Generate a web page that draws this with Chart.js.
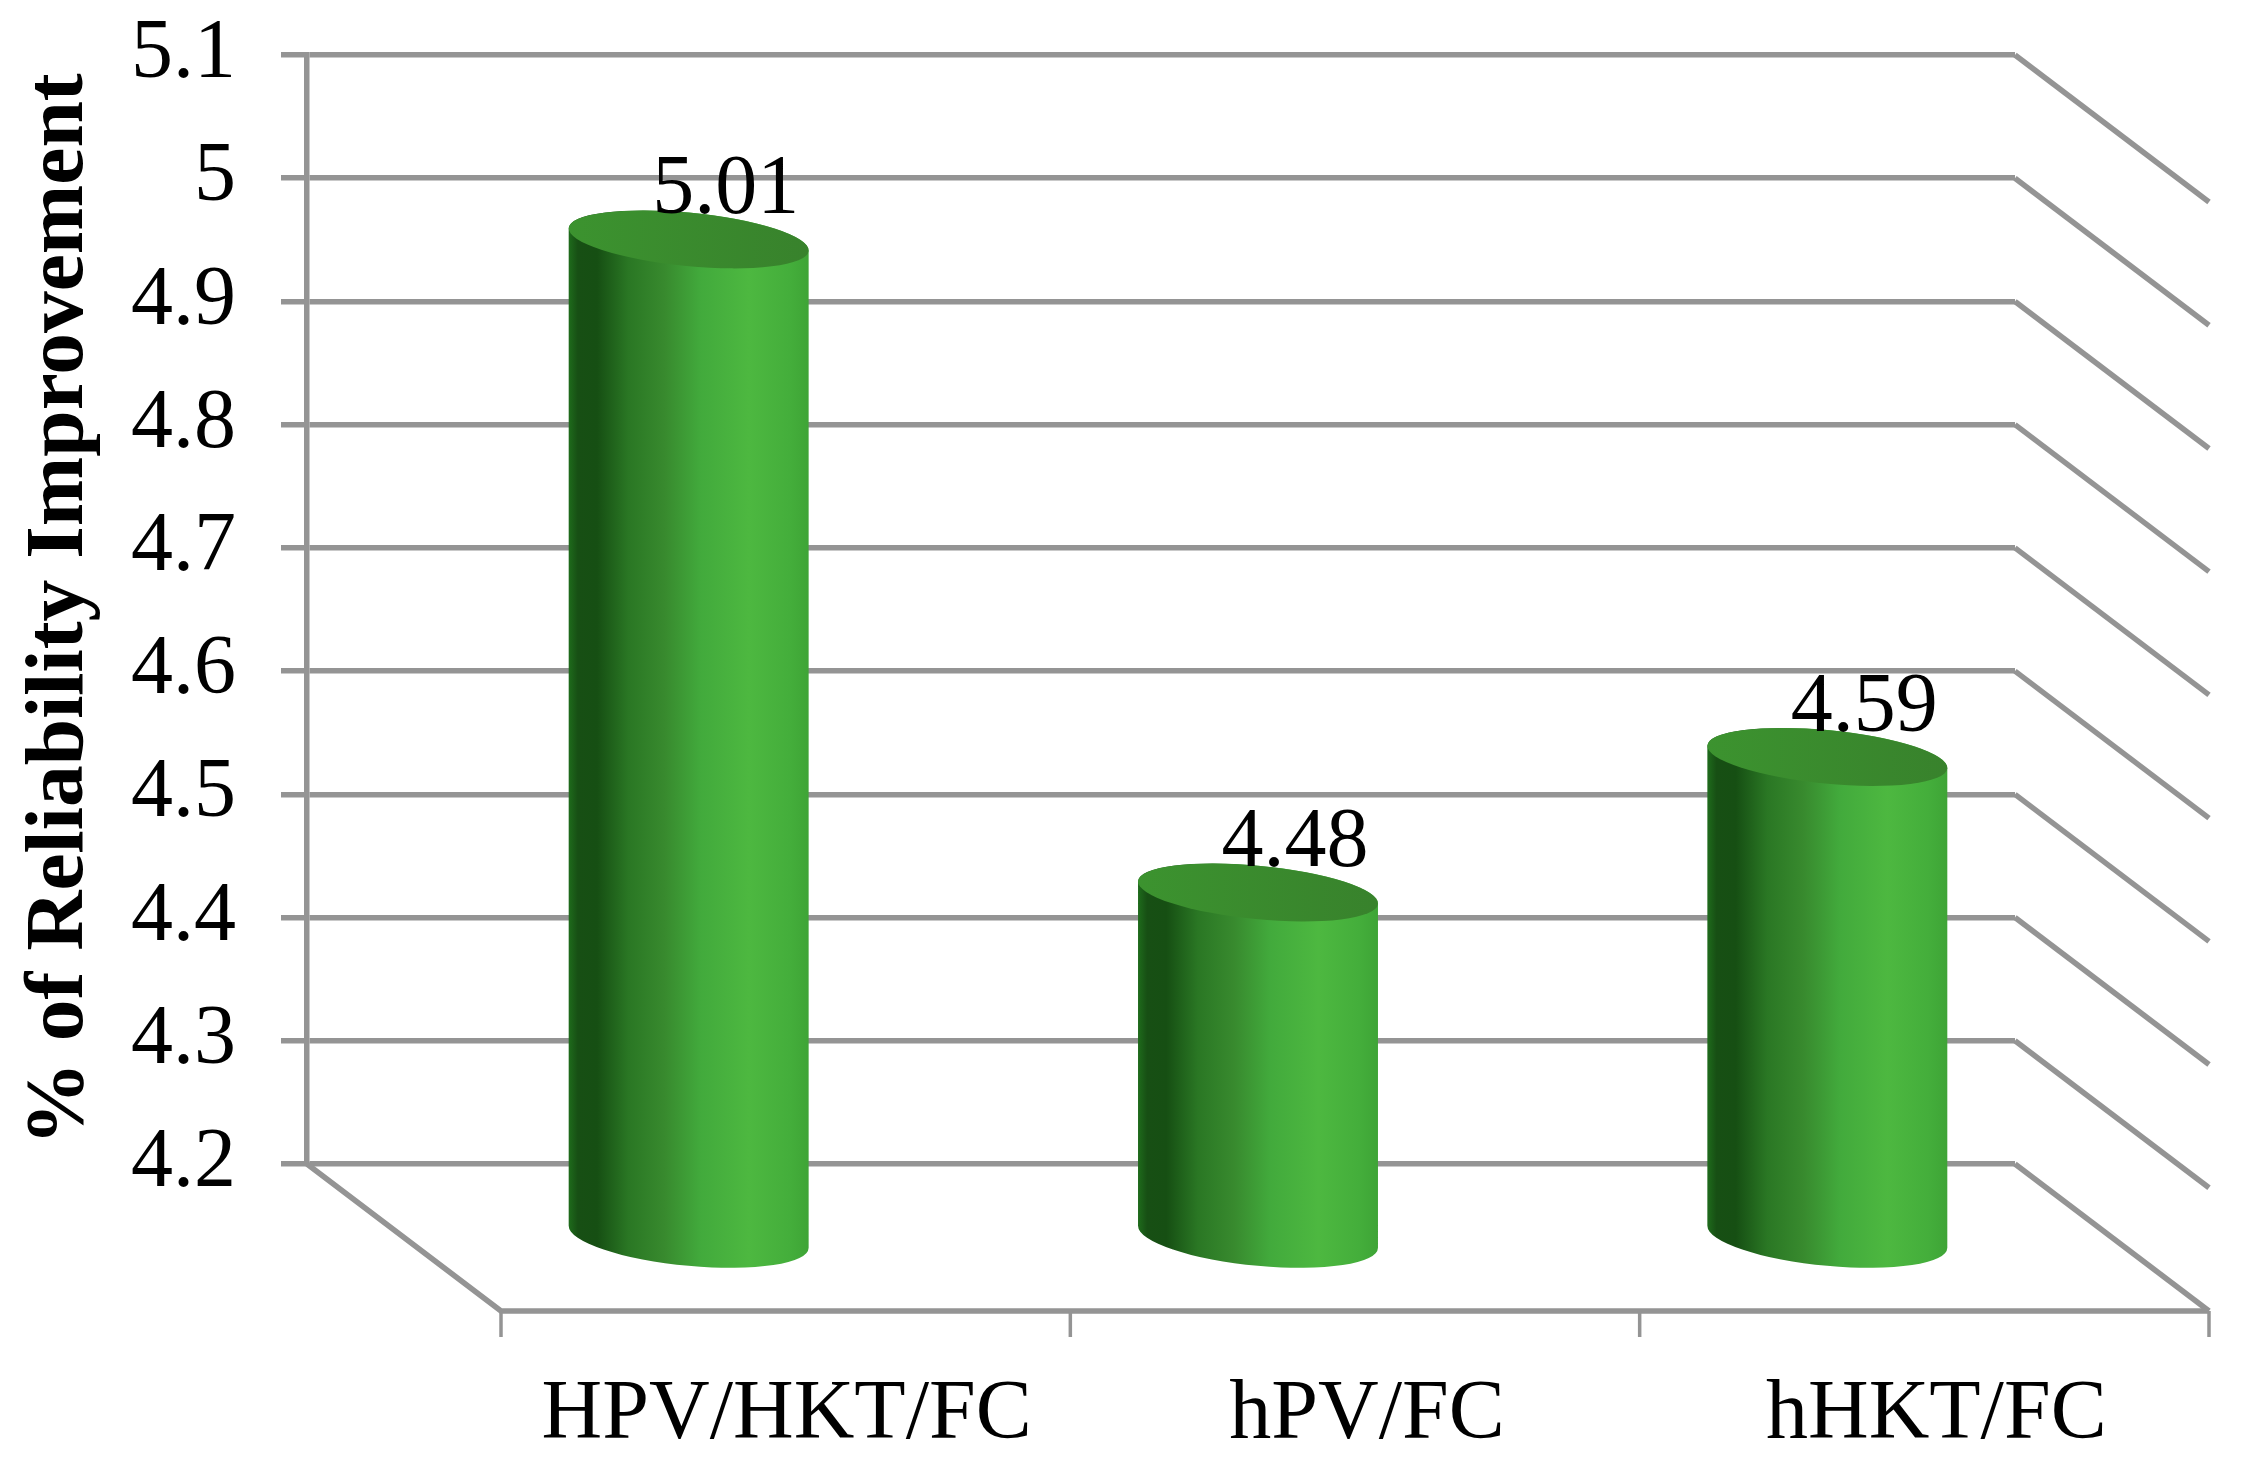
<!DOCTYPE html>
<html>
<head>
<meta charset="utf-8">
<title>Reliability improvement</title>
<script src="https://cdn.jsdelivr.net/npm/chart.js@4"></script>
<style>
    html, body { margin: 0; padding: 0; background: #fff; }
    canvas { display: block; }
</style>
</head>
<body>
<canvas id="reliabilityChart" width="2244" height="1466"></canvas>
<script>
const categories = ['HPV/HKT/FC', 'hPV/FC', 'hHKT/FC'];
const reliability = [5.01, 4.48, 4.59];
const yTicks = [4.2, 4.3, 4.4, 4.5, 4.6, 4.7, 4.8, 4.9, 5, 5.1];
const yTickLabels = ['4.2', '4.3', '4.4', '4.5', '4.6', '4.7', '4.8', '4.9', '5', '5.1'];
const valueLabels = ['5.01', '4.48', '4.59'];

const FONT = '"Liberation Serif", "Times New Roman", serif';
const LINE = '#949494';
const LINE_W = 5.5;
const DEPTH_X = 194;
const DEPTH_Y = 147;
const LABEL_NUDGE = [1, 12, 12]; // the category labels are not quite centred in the original

// the "3D" box around the plot: side wall, floor and front ticks
const boxPlugin = {
    id: 'box3d',
    beforeDatasetsDraw(chart) {
        const { ctx, chartArea: area, scales: { x, y } } = chart;
        ctx.save();
        ctx.strokeStyle = LINE;
        ctx.lineWidth = LINE_W;
        ctx.lineJoin = 'round';

        yTicks.forEach(v => {
            const py = y.getPixelForValue(v);
            ctx.beginPath();
            ctx.moveTo(area.right, py);
            ctx.lineTo(area.right + DEPTH_X, py + DEPTH_Y);
            ctx.stroke();
        });

        const floorY = area.bottom + DEPTH_Y;
        ctx.beginPath();
        ctx.moveTo(area.left, area.bottom);
        ctx.lineTo(area.left + DEPTH_X, floorY);
        ctx.lineTo(area.right + DEPTH_X, floorY);
        ctx.stroke();

        const slot = area.width / categories.length;
        ctx.lineWidth = 3.5;
        for (let i = 0; i <= categories.length; i++) {
            const px = x.getPixelForValue(0) - slot / 2 + i * slot + DEPTH_X;
            ctx.beginPath();
            ctx.moveTo(px, floorY);
            ctx.lineTo(px, floorY + 26);
            ctx.stroke();
        }
        ctx.restore();
    },
    // cylinders sit half way into the box
    afterDatasetsDraw(chart) {
        const { ctx } = chart;
        const angle = 5.5 * Math.PI / 180;
        chart.getDatasetMeta(0).data.forEach((bar, i) => {
            const cx = bar.x + DEPTH_X / 2;
            const top = bar.y + DEPTH_Y / 2;
            const base = bar.base + DEPTH_Y / 2 + 2;
            const a = bar.width / 2 + 0.5;
            const b = 26.7;
            const baseB = 29;
            const t0 = Math.atan2(-b * Math.sin(angle), a * Math.cos(angle));

            const grad = ctx.createLinearGradient(cx - a, 0, cx + a, 0);
            grad.addColorStop(0, '#1f6d1c');
            grad.addColorStop(0.04, '#174f14');
            grad.addColorStop(0.12, '#164f13');
            grad.addColorStop(0.25, '#2a7724');
            grad.addColorStop(0.4, '#388a2e');
            grad.addColorStop(0.55, '#42aa3c');
            grad.addColorStop(0.75, '#4db840');
            grad.addColorStop(0.92, '#44ae3b');
            grad.addColorStop(1, '#3ea436');

            ctx.save();
            ctx.beginPath();
            ctx.ellipse(cx, base, a, baseB, angle, t0, t0 + Math.PI, false);
            ctx.ellipse(cx, top, a, b, angle, t0 + Math.PI, t0 + 2 * Math.PI, false);
            ctx.closePath();
            ctx.fillStyle = grad;
            ctx.fill();

            const capGrad = ctx.createLinearGradient(cx - a, 0, cx + a, 0);
            capGrad.addColorStop(0, '#3c932f');
            capGrad.addColorStop(1, '#38822c');
            ctx.beginPath();
            ctx.ellipse(cx, top, a, b, angle, 0, 2 * Math.PI);
            ctx.fillStyle = capGrad;
            ctx.fill();

            ctx.fillStyle = '#000';
            ctx.font = '84px ' + FONT;
            ctx.textAlign = 'center';
            ctx.textBaseline = 'alphabetic';
            ctx.fillText(valueLabels[i], cx + 37, top - 26);
            ctx.restore();
        });
    }
};

new Chart(document.getElementById('reliabilityChart'), {
    type: 'bar',
    plugins: [boxPlugin],
    data: {
        labels: categories,
        datasets: [{
            data: reliability,
            base: yTicks[0],
            backgroundColor: 'rgba(0,0,0,0)',
            barThickness: 240
        }]
    },
    options: {
        responsive: false,
        animation: false,
        layout: { padding: { top: 55, right: 229 } },
        plugins: {
            legend: { display: false },
            tooltip: { enabled: false }
        },
        scales: {
            x: {
                grid: { display: false },
                border: { display: false },
                afterFit(scale) { scale.height = 302; },
                afterUpdate(scale) {
                    const tickPixel = scale.getPixelForTick;
                    scale.getPixelForTick = i => tickPixel.call(scale, i) + LABEL_NUDGE[i];
                },
                ticks: {
                    color: '#000',
                    font: { family: FONT, size: 84 },
                    labelOffset: DEPTH_X,
                    padding: 194,
                    autoSkip: false,
                    maxRotation: 0
                }
            },
            y: {
                min: 4.2,
                max: 5.1,
                afterBuildTicks(scale) { scale.ticks = yTicks.map(value => ({ value })); },
                afterFit(scale) {
                    scale.width = 307;
                    scale.paddingTop = 0;
                    scale.paddingBottom = 0;
                },
                grid: { color: LINE, lineWidth: LINE_W, tickLength: 26 },
                border: { color: LINE, width: LINE_W },
                ticks: {
                    color: '#000',
                    font: { family: FONT, size: 84 },
                    padding: 45,
                    callback(value, i) { return yTickLabels[i]; }
                },
                title: {
                    display: true,
                    text: '% of Reliability Improvement',
                    color: '#000',
                    font: { family: FONT, size: 83.5, weight: 'bold' },
                    padding: { top: 10, bottom: 0 }
                }
            }
        }
    }
});
</script>
</body>
</html>
